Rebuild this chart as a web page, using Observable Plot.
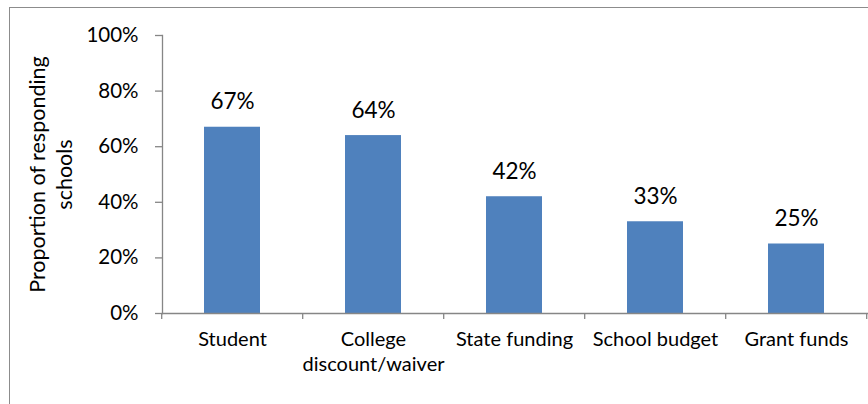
<!DOCTYPE html>
<html><head><meta charset="utf-8">
<script src="https://cdn.jsdelivr.net/npm/d3@7"></script>
<script src="https://cdn.jsdelivr.net/npm/@observablehq/plot@0.6"></script>
<style>
body{margin:0;background:#fff;}
#wrap{position:relative;width:868px;height:404px;overflow:hidden;}
#frame{position:absolute;left:9px;top:7px;width:900px;height:500px;border-left:1px solid #8c8c8c;border-top:1px solid #8c8c8c;}
#chart{position:absolute;left:0;top:0;}
</style></head><body><div id="wrap"><div id="frame"></div><div id="chart"></div></div>
<script>
const categories = ["Student", "College discount/waiver", "State funding", "School budget", "Grant funds"];
const categoryLabels = ["Student", "College\ndiscount/waiver", "State funding", "School budget", "Grant funds"];
const values = [0.67, 0.64, 0.42, 0.33, 0.25];
const yTicks = [0, 0.2, 0.4, 0.6, 0.8, 1.0];
const yTitle = "Proportion of responding\nschools";

const data = categories.map((c, i) => ({category: c, value: values[i]}));
const labelOf = new Map(categories.map((c, i) => [c, categoryLabels[i]]));
const FONT = "Lato, 'Open Sans', sans-serif";
const axisColor = "#868686";

function boundaryTicks(index, scales, values, dimensions) {
  const x = scales.x, y = scales.y;
  const step = x(categories[1]) - x(categories[0]);
  const bw = step * 0.4;
  const gap = (step - bw) / 2;
  const xs = categories.map(c => x(c) - gap);
  xs.push(x(categories[categories.length - 1]) + bw + gap);
  const y0 = y(0);
  const g = d3.create("svg:g");
  for (const xv of xs) {
    g.append("line").attr("x1", xv).attr("x2", xv).attr("y1", y0).attr("y2", y0 + 6)
      .attr("stroke", axisColor).attr("stroke-width", 1.3);
  }
  return g.node();
}

const plot = Plot.plot({
  width: 868,
  height: 404,
  marginLeft: 162,
  marginRight: 1,
  marginTop: 35,
  marginBottom: 91,
  style: {fontFamily: FONT, background: "transparent", color: "#000"},
  x: {domain: categories, paddingInner: 0.6, paddingOuter: 0.3, label: null},
  y: {domain: [0, 1], label: null},
  marks: [
    Plot.barY(data, {x: "category", y: "value", fill: "#4F81BD"}),
    Plot.frame({anchor: "left", stroke: axisColor, strokeWidth: 1.3}),
    Plot.frame({anchor: "bottom", stroke: axisColor, strokeWidth: 1.3}),
    Plot.axisY({ticks: yTicks, tickFormat: d3.format(".0%"), tickSize: 7, tickPadding: 17,
      stroke: axisColor, strokeWidth: 1.3, fill: "#000", fontSize: 20.5, label: null}),
    Plot.axisX({tickSize: 0, tickPadding: 15, tickFormat: d => labelOf.get(d), fontSize: 20,
      lineHeight: 1.25, fill: "#000", label: null}),
    boundaryTicks,
    Plot.text(data, {x: "category", y: "value", text: d => d3.format(".0%")(d.value), dy: -25,
      fontSize: 22.5, fill: "#000"}),
    Plot.text([yTitle], {frameAnchor: "left", dx: -113, text: d => d, rotate: -90,
      textAnchor: "middle", lineAnchor: "middle", fontSize: 21.5, lineHeight: 1.25, fill: "#000"})
  ]
});
document.getElementById("chart").appendChild(plot);
</script>
</body></html>
